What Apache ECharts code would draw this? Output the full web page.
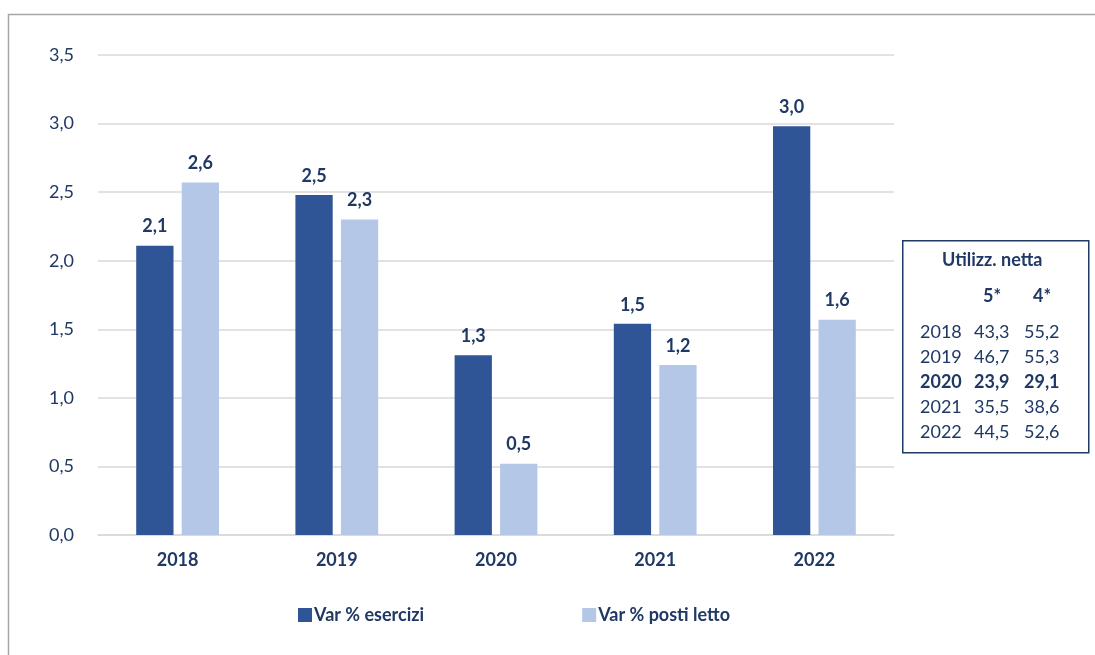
<!DOCTYPE html>
<html lang="it">
<head>
  <meta charset="UTF-8" />
  <title>Var % esercizi e posti letto</title>
  <script src="https://cdn.jsdelivr.net/npm/echarts@6/dist/echarts.min.js"></script>
  <style>
    body { margin: 0; background: #fff; }
    #chart { width: 1095px; height: 655px; }
  </style>
</head>
<body>
  <div id="chart"></div>
  <script>
    const years = ['2018', '2019', '2020', '2021', '2022'];
    const esercizi = [2.11, 2.48, 1.31, 1.54, 2.98];
    const postiLetto = [2.57, 2.30, 0.52, 1.24, 1.57];
    const yTicks = [0, 0.5, 1, 1.5, 2, 2.5, 3, 3.5];

    // tabella "Utilizz. netta"
    const tabYears = ['2018', '2019', '2020', '2021', '2022'];
    const tab5 = ['43,3', '46,7', '23,9', '35,5', '44,5'];
    const tab4 = ['55,2', '55,3', '29,1', '38,6', '52,6'];
    const boldRow = '2020';

    const navy = '#1F3864';
    const font = 'Lato, "Open Sans", sans-serif';
    const fmt = v => v.toFixed(1).replace('.', ',');

    const tableText = [];
    tabYears.forEach((y, i) => {
      const weight = y === boldRow ? 'bold' : 'normal';
      const top = 333 + i * 25;
      [[y, 920], [tab5[i], 974], [tab4[i], 1024]].forEach(([t, x]) => {
        tableText.push({
          type: 'text', left: x, top: top - 10,
          style: { text: t, fill: navy, font: weight + ' 18px ' + font }
        });
      });
    });

    const chart = echarts.init(document.getElementById('chart'));
    chart.setOption({
      textStyle: { fontFamily: font },
      grid: { left: 98, right: 201, top: 55, bottom: 120 },
      legend: {
        bottom: 26, left: 293, itemGap: 158,
        itemWidth: 14, itemHeight: 14, icon: 'rect',
        textStyle: { color: navy, fontSize: 18, fontWeight: 'bold', padding: [0, 0, 0, -3] },
        data: ['Var % esercizi', 'Var % posti letto']
      },
      xAxis: {
        type: 'category', data: years,
        axisLine: { lineStyle: { color: '#D9D9D9', width: 1.5 } },
        axisTick: { show: false },
        axisLabel: { color: navy, fontSize: 18, fontWeight: 'bold', margin: 16 }
      },
      yAxis: {
        type: 'value', min: 0, max: 3.5, interval: 0.5,
        axisLabel: {
          color: navy, fontSize: 18, margin: 24,
          formatter: v => yTicks.includes(v) ? fmt(v) : ''
        },
        splitLine: { lineStyle: { color: '#D9D9D9', width: 1.5 } },
        axisLine: { show: false }, axisTick: { show: false }
      },
      series: [
        {
          name: 'Var % esercizi', type: 'bar', data: esercizi,
          barGap: '22%', barCategoryGap: '48%',
          itemStyle: { color: '#2F5597' },
          label: { show: true, position: 'top', distance: 10, color: navy, fontSize: 18, fontWeight: 'bold', formatter: p => fmt(p.value) }
        },
        {
          name: 'Var % posti letto', type: 'bar', data: postiLetto,
          itemStyle: { color: '#B4C7E7' },
          label: { show: true, position: 'top', distance: 10, color: navy, fontSize: 18, fontWeight: 'bold', formatter: p => fmt(p.value) }
        }
      ],
      graphic: [
        {
          type: 'rect', left: 6, top: 12, silent: true,
          shape: { width: 1200, height: 800 },
          style: { fill: 'none', stroke: '#A6A6A6', lineWidth: 1.5 }
        },
        {
          type: 'rect', left: 902, top: 240, silent: true,
          shape: { width: 186, height: 212 },
          style: { fill: '#fff', stroke: navy, lineWidth: 1.5 }
        },
        {
          type: 'text', left: 942, top: 251,
          style: { text: 'Utilizz. netta', fill: navy, font: 'bold 18px ' + font }
        },
        {
          type: 'text', left: 983, top: 287,
          style: { text: '5*', fill: navy, font: 'bold 18px ' + font }
        },
        {
          type: 'text', left: 1033, top: 287,
          style: { text: '4*', fill: navy, font: 'bold 18px ' + font }
        },
        ...tableText
      ]
    });
  </script>
</body>
</html>
